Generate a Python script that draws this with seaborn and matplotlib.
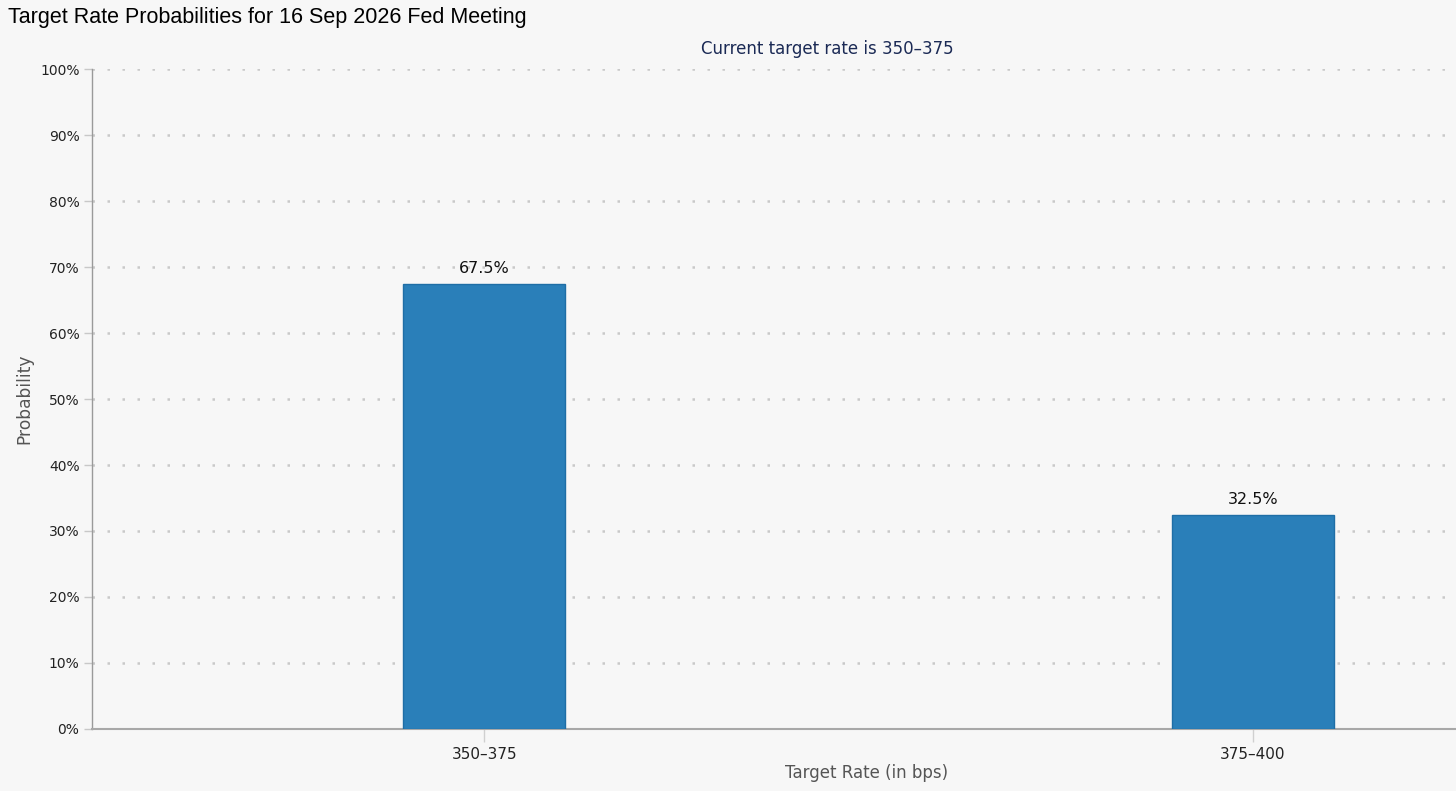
import matplotlib
matplotlib.use("Agg")
import matplotlib.pyplot as plt
import seaborn as sns
import pandas as pd

# data
rates = ["350\u2013375", "375\u2013400"]
probs = [67.5, 32.5]
yticks = [0, 10, 20, 30, 40, 50, 60, 70, 80, 90, 100]

bg = "#f7f7f7"
bar_col = "#2a7fb9"

sns.set_theme(style="white")
plt.rcParams['font.family'] = ['DejaVu Sans']

df = pd.DataFrame({"rate": rates, "prob": probs})

fig = plt.figure(figsize=(14.56, 7.91), dpi=100, facecolor=bg)
ax = fig.add_axes([92/1456, 62/791, 1 - 92/1456, 660/791])
ax.set_facecolor(bg)

sns.barplot(data=df, x="rate", y="prob", color=bar_col, width=0.21,
            edgecolor="#1f6ea6", linewidth=1, saturation=1, ax=ax, zorder=3)

ax.set_xlim(-0.51, 1.264)
ax.set_ylim(0, 100)
ax.set_yticks(yticks)
ax.set_yticklabels([f"{t}%" for t in yticks])

ax.grid(axis="y", color="#c9c9c9", linewidth=1.8, linestyle=(0, (1, 5)), zorder=0)
ax.set_axisbelow(True)

for s in ["top", "right"]:
    ax.spines[s].set_visible(False)
ax.spines["left"].set_color("#9a9a9a")
ax.spines["left"].set_linewidth(1)
ax.spines["bottom"].set_color("#a8a8a8")
ax.spines["bottom"].set_linewidth(1.5)

ax.tick_params(axis="y", length=6, width=1, color="#c8c8c8", labelsize=10, labelcolor="#222222", pad=3, left=True)
ax.tick_params(axis="x", length=9, width=1, color="#d0d0d0", labelsize=11, labelcolor="#222222", pad=4, bottom=True)

ax.set_xlabel("")
ax.set_ylabel("")

for i, v in enumerate(probs):
    ax.text(i, v + 1.2, f"{v}%", ha="center", va="bottom", fontsize=11.5, color="#111111")

fig.text(8/1456, 1 - 18/791, "Target Rate Probabilities for 16 Sep 2026 Fed Meeting",
         ha="left", va="center", fontsize=15.5, color="black", family="Liberation Sans")
fig.text(827/1456, 1 - 49/791, "Current target rate is 350\u2013375",
         ha="center", va="center", fontsize=12, color="#1b2a55")
fig.text(24/1456, 1 - 399/791, "Probability", rotation=90,
         ha="center", va="center", fontsize=12.3, color="#555555")
fig.text(867/1456, 1 - 773/791, "Target Rate (in bps)",
         ha="center", va="center", fontsize=12, color="#555555")

fig.savefig("out.png", dpi=100, facecolor=bg)
